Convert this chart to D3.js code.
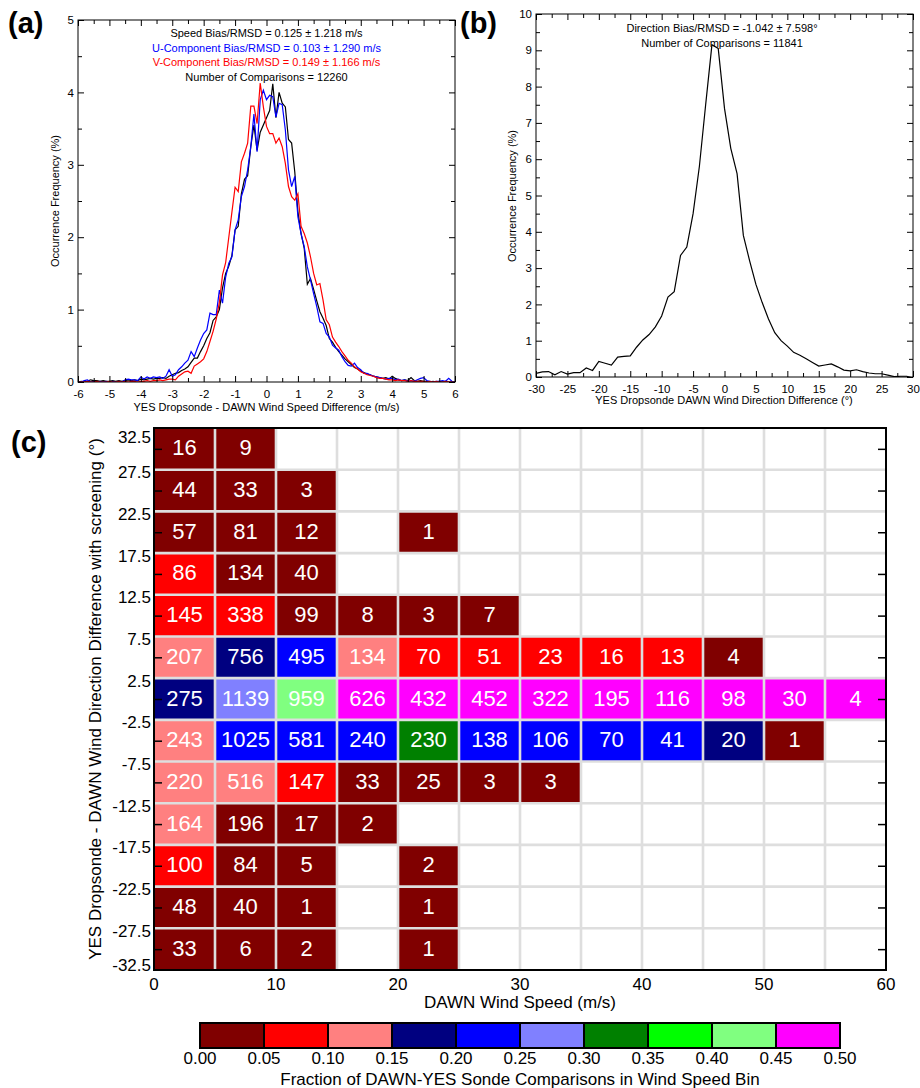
<!DOCTYPE html>
<html><head><meta charset="utf-8">
<script src="https://cdn.jsdelivr.net/npm/d3@7"></script>
<style>
body{margin:0;background:#fff}
svg{display:block}
text{font-family:"Liberation Sans",Arial,Helvetica,sans-serif}
</style>
</head><body>
<svg id="c" width="920" height="1088"></svg>
<script>
// ---------------- DATA ----------------
// Panel (a): wind speed / component difference histograms, 0.1 m/s bins from -6 to 6
const speedDiffBins = d3.range(-60, 61).map(d => d / 10);
const speedFreq = [
  0.00,0.01,0.00,0.01,0.03,0.02,0.02,0.01,0.02,0.01,
  0.01,0.02,0.01,0.02,0.01,0.02,0.03,0.02,0.03,0.02,
  0.04,0.03,0.04,0.05,0.04,0.05,0.05,0.06,0.05,0.08,
  0.10,0.12,0.13,0.16,0.18,0.21,0.27,0.33,0.33,0.42,
  0.50,0.60,0.68,0.85,0.90,1.00,1.30,1.50,1.60,1.75,
  2.10,2.15,2.60,2.80,2.85,3.25,3.55,3.20,3.45,3.55,
  3.65,3.75,4.12,3.65,4.00,3.85,3.80,3.35,3.30,2.90,
  2.35,2.05,1.85,1.35,1.43,1.28,1.12,0.97,0.88,0.78,
  0.60,0.55,0.48,0.42,0.37,0.32,0.28,0.24,0.20,0.18,
  0.15,0.13,0.11,0.10,0.08,0.07,0.06,0.05,0.06,0.04,
  0.08,0.05,0.03,0.02,0.03,0.02,0.06,0.02,0.01,0.02,
  0.01,0.01,0.00,0.01,0.00,0.01,0.00,0.01,0.00,0.00,0.00
];
const uFreq = [
  0.00,0.00,0.02,0.03,0.00,0.01,0.00,0.01,0.00,0.01,
  0.00,0.01,0.00,0.01,0.00,0.03,0.04,0.03,0.03,0.02,
  0.07,0.04,0.07,0.05,0.07,0.06,0.07,0.05,0.08,0.17,
  0.08,0.10,0.17,0.21,0.26,0.30,0.42,0.35,0.47,0.58,
  0.67,0.72,0.95,0.93,0.93,1.27,1.09,1.45,1.64,1.73,
  2.10,2.24,2.56,2.70,2.93,3.25,3.70,3.18,3.90,4.03,
  3.90,3.96,3.94,3.66,3.85,3.83,3.48,2.93,2.70,2.84,
  2.28,2.05,1.87,1.59,1.41,1.22,1.04,0.83,0.81,0.67,
  0.62,0.51,0.47,0.44,0.35,0.28,0.23,0.22,0.26,0.20,
  0.17,0.12,0.12,0.10,0.08,0.07,0.06,0.05,0.04,0.05,
  0.05,0.03,0.04,0.02,0.03,0.01,0.02,0.01,0.03,0.05,
  0.06,0.02,0.01,0.00,0.01,0.01,0.02,0.01,0.05,0.01,0.00
];
const vFreq = [
  0.00,0.00,0.00,0.01,0.00,0.00,0.01,0.00,0.00,0.00,
  0.01,0.00,0.00,0.01,0.00,0.01,0.00,0.01,0.01,0.00,
  0.01,0.01,0.02,0.01,0.02,0.02,0.03,0.02,0.03,0.04,
  0.04,0.03,0.08,0.11,0.14,0.15,0.12,0.22,0.25,0.28,
  0.32,0.42,0.56,0.70,0.87,1.10,1.48,1.65,2.00,2.35,
  2.69,2.63,3.04,3.16,3.30,3.81,3.81,3.57,4.13,3.80,
  3.53,3.43,3.43,3.30,3.37,3.25,3.02,2.70,2.56,2.51,
  2.60,2.15,2.05,1.92,1.73,1.50,1.34,1.36,1.13,0.86,
  0.79,0.62,0.55,0.49,0.42,0.36,0.30,0.26,0.21,0.18,
  0.14,0.12,0.10,0.09,0.08,0.06,0.05,0.05,0.04,0.03,
  0.03,0.02,0.03,0.02,0.02,0.01,0.02,0.01,0.01,0.01,
  0.01,0.00,0.01,0.00,0.01,0.00,0.00,0.01,0.00,0.00,0.00
];
const statsA = [
  {text:"Speed Bias/RMSD = 0.125 \u00b1 1.218 m/s", color:"#000"},
  {text:"U-Component Bias/RMSD = 0.103 \u00b1 1.290 m/s", color:"#0000ff"},
  {text:"V-Component Bias/RMSD = 0.149 \u00b1 1.166 m/s", color:"#ff0000"},
  {text:"Number of Comparisons = 12260", color:"#000"}
];

// Panel (b): direction difference histogram, 1 degree bins
const dirDiffBins = d3.range(-30, 31);
const dirFreq = [
  0.10,0.14,0.15,0.06,0.15,0.08,0.12,0.12,0.25,0.18,
  0.43,0.38,0.33,0.55,0.57,0.58,0.82,1.02,1.17,1.38,
  1.68,2.20,2.35,3.35,3.58,4.50,5.80,7.50,9.15,9.05,
  7.40,6.30,5.60,3.90,3.20,2.55,2.05,1.60,1.22,1.00,
  0.85,0.68,0.60,0.50,0.40,0.30,0.33,0.36,0.28,0.19,
  0.17,0.20,0.15,0.11,0.09,0.09,0.05,0.01,0.02,0.02,-0.03
];
const statsB = ["Direction Bias/RMSD = -1.042 \u00b1 7.598\u00b0", "Number of Comparisons = 11841"];

// Panel (c): counts per (wind speed bin, direction bin)
const speedBinStarts = [0,5,10,15,20,25,30,35,40,45,50,55];
const dirBinCenters = [30,25,20,15,10,5,0,-5,-10,-15,-20,-25,-30];
const cellCounts = [
  [16, 9],
  [44, 33, 3],
  [57, 81, 12, null, 1],
  [86, 134, 40],
  [145, 338, 99, 8, 3, 7],
  [207, 756, 495, 134, 70, 51, 23, 16, 13, 4],
  [275, 1139, 959, 626, 432, 452, 322, 195, 116, 98, 30, 4],
  [243, 1025, 581, 240, 230, 138, 106, 70, 41, 20, 1],
  [220, 516, 147, 33, 25, 3, 3],
  [164, 196, 17, 2],
  [100, 84, 5, null, 2],
  [48, 40, 1, null, 1],
  [33, 6, 2, null, 1]
];
const yTickLabelsC = [32.5,27.5,22.5,17.5,12.5,7.5,2.5,-2.5,-7.5,-12.5,-17.5,-22.5,-27.5,-32.5];
const xTickLabelsC = [0,10,20,30,40,50,60];
const fractionEdges = [0.05,0.10,0.15,0.20,0.25,0.30,0.35,0.40,0.45];
const fractionColors = ["#800000","#ff0000","#ff8080","#000080","#0000ff","#8080ff","#008000","#00ff00","#80ff80","#ff00ff"];
const colorbarTicks = [0,0.05,0.10,0.15,0.20,0.25,0.30,0.35,0.40,0.45,0.50];

// ---------------- DRAW ----------------
const svg = d3.select("#c");
const LBL = '"Open Sans", "DejaVu Sans", sans-serif';
const plain = d => String(d);

function framedPanel(g, x, y, xMajor, xMinor, yMajor, yMinor, fs) {
  const [x0, x1] = x.range(), [y0, y1] = y.range();
  const add = (axis, tx, ty, vals, size, fmt, pad) => {
    g.append("g").attr("transform", `translate(${tx},${ty})`)
      .call(axis.tickValues(vals).tickSizeInner(size).tickSizeOuter(0).tickPadding(pad || 3).tickFormat(fmt))
      .call(a => a.select(".domain").remove());
  };
  // minor ticks
  add(d3.axisBottom(x), 0, y0, xMinor, -4, "");
  add(d3.axisTop(x), 0, y1, xMinor, -4, "");
  add(d3.axisLeft(y), x0, 0, yMinor, -4, "");
  add(d3.axisRight(y), x1, 0, yMinor, -4, "");
  // major ticks
  add(d3.axisBottom(x), 0, y0, xMajor, -6, plain, 8);
  add(d3.axisTop(x), 0, y1, xMajor, -6, "");
  add(d3.axisLeft(y), x0, 0, yMajor, -6, plain, 4);
  add(d3.axisRight(y), x1, 0, yMajor, -6, "");
  g.selectAll(".tick line").attr("stroke", "#000").attr("stroke-width", 1);
  g.selectAll(".tick text").attr("font-size", fs).attr("fill", "#000")
    .attr("font-family", '"Liberation Sans",Arial,sans-serif');
  g.append("rect").attr("x", x0).attr("y", y1).attr("width", x1 - x0).attr("height", y0 - y1)
    .attr("fill", "none").attr("stroke", "#000").attr("stroke-width", 1);
}

// ----- Panel (a)
{
  const x = d3.scaleLinear().domain([-6, 6]).range([78, 455]);
  const y = d3.scaleLinear().domain([0, 5]).range([382, 20]);
  const g = svg.append("g");
  g.append("clipPath").attr("id", "clipA").append("rect")
    .attr("x", 78).attr("y", 20).attr("width", 377).attr("height", 362);
  const line = d3.line().x((d, i) => x(speedDiffBins[i])).y(d => y(d));
  const lg = g.append("g").attr("clip-path", "url(#clipA)");
  lg.append("path").datum(speedFreq).attr("d", line).attr("fill", "none").attr("stroke", "#000").attr("stroke-width", 1.2);
  lg.append("path").datum(uFreq).attr("d", line).attr("fill", "none").attr("stroke", "#0000ff").attr("stroke-width", 1.2);
  lg.append("path").datum(vFreq).attr("d", line).attr("fill", "none").attr("stroke", "#ff0000").attr("stroke-width", 1.2);
  framedPanel(g, x, y, d3.range(-6, 7, 1), d3.range(-5.5, 6, 1), d3.range(0, 6, 1), d3.range(0.5, 5, 1), 11.5);
  g.selectAll("text.stat").data(statsA).join("text").attr("class", "stat")
    .attr("x", 266.5).attr("y", (d, i) => 37 + i * 14.5)
    .attr("text-anchor", "middle").attr("font-size", 11).attr("fill", d => d.color).text(d => d.text);
  g.append("text").attr("x", 266.5).attr("y", 411).attr("text-anchor", "middle").attr("font-size", 11)
    .text("YES Dropsonde - DAWN Wind Speed Difference (m/s)");
  g.append("text").attr("transform", "translate(59,201) rotate(-90)").attr("text-anchor", "middle").attr("font-size", 11)
    .text("Occurrence Frequency (%)");
  g.append("text").attr("x", 8).attr("y", 33).attr("font-size", 29).attr("font-weight", 700)
    .attr("font-family", LBL).text("(a)");
}

// ----- Panel (b)
{
  const x = d3.scaleLinear().domain([-30, 30]).range([536, 913]);
  const y = d3.scaleLinear().domain([0, 10]).range([377, 14]);
  const g = svg.append("g");
  g.append("clipPath").attr("id", "clipB").append("rect")
    .attr("x", 536).attr("y", 14).attr("width", 377).attr("height", 363);
  const line = d3.line().x((d, i) => x(dirDiffBins[i])).y(d => y(d));
  g.append("g").attr("clip-path", "url(#clipB)").append("path").datum(dirFreq).attr("d", line)
    .attr("fill", "none").attr("stroke", "#000").attr("stroke-width", 1.2);
  framedPanel(g, x, y, d3.range(-30, 31, 5), d3.range(-27.5, 30, 5), d3.range(0, 11, 1), d3.range(0.5, 10, 1), 11.5);
  g.selectAll("text.stat").data(statsB).join("text").attr("class", "stat")
    .attr("x", 722).attr("y", (d, i) => 32 + i * 15)
    .attr("text-anchor", "middle").attr("font-size", 11).text(d => d);
  g.append("text").attr("x", 724).attr("y", 404).attr("text-anchor", "middle").attr("font-size", 11)
    .text("YES Dropsonde DAWN Wind Direction Difference (\u00b0)");
  g.append("text").attr("transform", "translate(516,196) rotate(-90)").attr("text-anchor", "middle").attr("font-size", 11)
    .text("Occurrence Frequency (%)");
  g.append("text").attr("x", 460).attr("y", 33).attr("font-size", 29).attr("font-weight", 700)
    .attr("font-family", LBL).text("(b)");
}

// ----- Panel (c)
{
  const x = d3.scaleLinear().domain([0, 60]).range([154, 886]);
  const y = d3.scaleLinear().domain([-32.5, 32.5]).range([970, 428]);
  const color = d3.scaleThreshold().domain(fractionEdges).range(fractionColors);
  const g = svg.append("g");
  // column totals -> fraction within each wind speed bin
  const colTotals = speedBinStarts.map((s, j) => d3.sum(cellCounts, r => r[j] || 0));
  const cells = [];
  cellCounts.forEach((row, i) => row.forEach((n, j) => {
    if (n != null) cells.push({s: speedBinStarts[j], c: dirBinCenters[i], n, f: n / colTotals[j]});
  }));
  g.selectAll("rect.cell").data(cells).join("rect").attr("class", "cell")
    .attr("x", d => x(d.s)).attr("y", d => y(d.c + 2.5))
    .attr("width", d => x(d.s + 5) - x(d.s)).attr("height", d => y(d.c - 2.5) - y(d.c + 2.5))
    .attr("fill", d => color(d.f));
  // grid
  const gridX = speedBinStarts.slice(1);
  const gridY = yTickLabelsC.slice(1, -1);
  g.selectAll("line.gx").data(gridX).join("line").attr("class", "gx")
    .attr("x1", d => x(d)).attr("x2", d => x(d)).attr("y1", 428).attr("y2", 970)
    .attr("stroke", "#dedede").attr("stroke-width", 2.6);
  g.selectAll("line.gy").data(gridY).join("line").attr("class", "gy")
    .attr("y1", d => y(d)).attr("y2", d => y(d)).attr("x1", 154).attr("x2", 886)
    .attr("stroke", "#dedede").attr("stroke-width", 2.6);
  // numbers
  g.selectAll("text.num").data(cells).join("text").attr("class", "num")
    .attr("x", d => x(d.s + 2.5)).attr("y", d => y(d.c) - 1)
    .attr("text-anchor", "middle").attr("dominant-baseline", "central")
    .attr("font-size", 22).attr("fill", "#fff").text(d => d.n);
  // inner ticks at bin centers
  g.append("g").attr("transform", "translate(154,0)")
    .call(d3.axisLeft(y).tickValues(dirBinCenters).tickSizeInner(-8).tickSizeOuter(0).tickFormat(""))
    .call(a => a.select(".domain").remove());
  g.append("g").attr("transform", "translate(886,0)")
    .call(d3.axisRight(y).tickValues(dirBinCenters).tickSizeInner(-8).tickSizeOuter(0).tickFormat(""))
    .call(a => a.select(".domain").remove());
  g.selectAll(".tick line").attr("stroke", "#000").attr("stroke-width", 1.5);
  // frame
  g.append("rect").attr("x", 154).attr("y", 428).attr("width", 732).attr("height", 542)
    .attr("fill", "none").attr("stroke", "#000").attr("stroke-width", 2);
  // labels
  const last = yTickLabelsC.length - 1;
  g.selectAll("text.yl").data(yTickLabelsC).join("text").attr("class", "yl")
    .attr("x", 151).attr("y", (d, i) => y(d) + (i === 0 ? 9 : i === last ? -5 : 3))
    .attr("text-anchor", "end").attr("dominant-baseline", "central").attr("font-size", 17)
    .text(d => d.toFixed(1));
  g.selectAll("text.xl").data(xTickLabelsC).join("text").attr("class", "xl")
    .attr("x", d => x(d)).attr("y", 984).attr("text-anchor", "middle").attr("dominant-baseline", "central")
    .attr("font-size", 17).text(d => d);
  g.append("text").attr("x", 520).attr("y", 1008).attr("text-anchor", "middle").attr("font-size", 17)
    .text("DAWN Wind Speed (m/s)");
  g.append("text").attr("transform", "translate(101,699) rotate(-90)").attr("text-anchor", "middle").attr("font-size", 17)
    .text("YES Dropsonde - DAWN Wind Direction Difference with screening (\u00b0)");
  g.append("text").attr("x", 11).attr("y", 452).attr("font-size", 29).attr("font-weight", 700)
    .attr("font-family", LBL).text("(c)");

  // colorbar
  const cb = d3.scaleLinear().domain([0, 0.5]).range([200, 840]);
  const segs = colorbarTicks.slice(0, -1).map((v, i) => ({v0: v, v1: colorbarTicks[i + 1], col: fractionColors[i]}));
  g.selectAll("rect.cb").data(segs).join("rect").attr("class", "cb")
    .attr("x", d => cb(d.v0)).attr("y", 1023).attr("width", d => cb(d.v1) - cb(d.v0)).attr("height", 25)
    .attr("fill", d => d.col).attr("stroke", "#000").attr("stroke-width", 2);
  g.selectAll("text.cbl").data(colorbarTicks).join("text").attr("class", "cbl")
    .attr("x", d => cb(d)).attr("y", 1058).attr("text-anchor", "middle").attr("dominant-baseline", "central")
    .attr("font-size", 17).text(d => d.toFixed(2));
  g.append("text").attr("x", 520).attr("y", 1085).attr("text-anchor", "middle").attr("font-size", 17)
    .text("Fraction of DAWN-YES Sonde Comparisons in Wind Speed Bin");
}
</script>
</body></html>
